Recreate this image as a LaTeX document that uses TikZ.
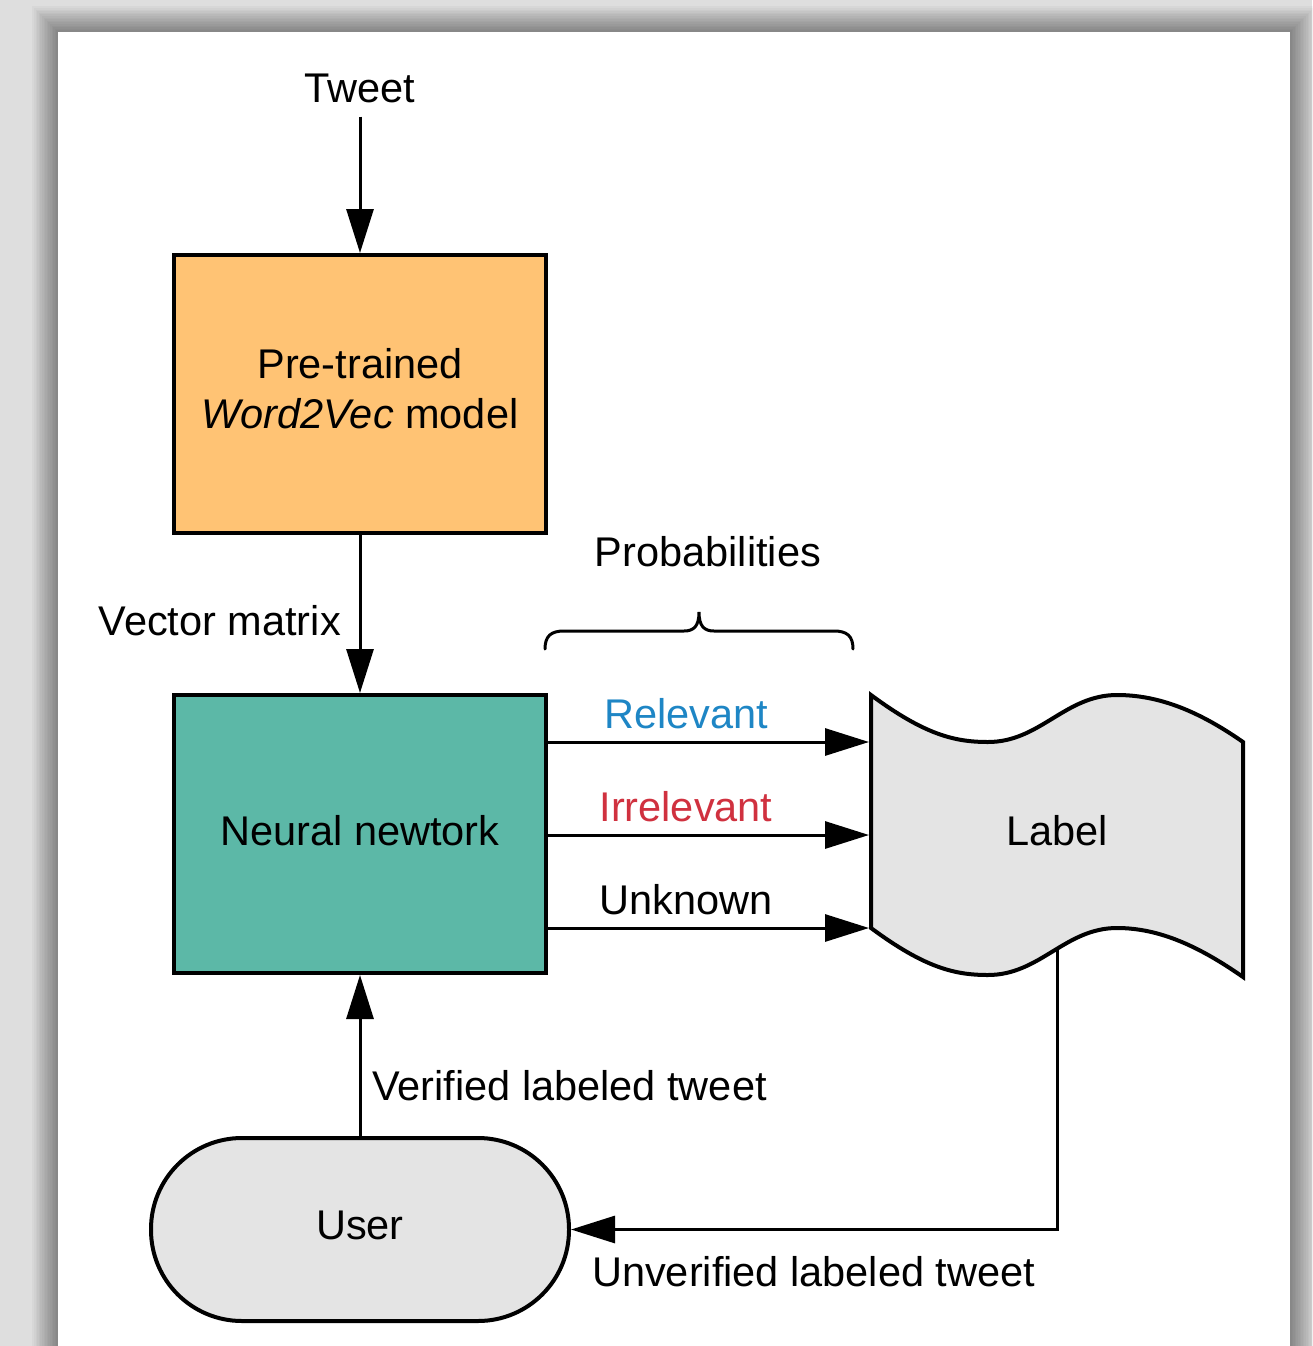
\documentclass[tikz,border=0pt]{standalone}
\usepackage{fontspec}
\setmainfont{Liberation Sans}
\usetikzlibrary{arrows.meta}
\definecolor{bggray}{HTML}{DEDEDE}
\definecolor{orangebox}{HTML}{FFC374}
\definecolor{tealbox}{HTML}{5CB8A7}
\definecolor{lightgray}{HTML}{E4E4E4}
\definecolor{relblue}{HTML}{1E86C5}
\definecolor{irrred}{HTML}{D0313F}
\tikzset{
  boxstyle/.style={draw=black, line width=4pt, minimum width=372pt, minimum height=278pt, align=center, inner sep=0pt},
  txt/.style={inner sep=1pt, anchor=base},
  arr/.style={line width=3pt, -{Triangle[length=44pt,width=27pt]}},
  plain/.style={line width=3pt},
}
\begin{document}
\begin{tikzpicture}[x=1pt,y=-1pt,font=\fontsize{41.5}{50}\selectfont]
\useasboundingbox (0,0) rectangle (1312,1346);
\fill[bggray] (0,0) rectangle (1312,1346);
\foreach \i in {1,...,16}{
  \fill[black,opacity=0.028] (58-1.6*\i,32-1.6*\i) rectangle (1290+1.6*\i,1400);
}
\fill[white] (58,32) rectangle (1290,1400);

% texts
\node[txt] (tweet) at (360,102) {Tweet};
\node[boxstyle, fill=orangebox] (w2v) at (360,394) {};
\node[txt] (w2vt1) at (360,378) {Pre-trained};
\node[txt] (w2vt2) at (360,428) {\itshape Word2Vec\upshape{} model};

\node[boxstyle, fill=tealbox] (nn) at (360,834) {};
\node[txt] (nnt) at (360,845) {Neural newtork};

\node[txt, anchor=base east] (vm) at (342,635) {Vector matrix};
\node[txt] (prob) at (708,566) {Probabilities};

% brace
\draw[plain, line cap=round] (545,649) .. controls (545,636) and (551,631) .. (564,631) -- (684,631) .. controls (694,631) and (699,626) .. (699,612) .. controls (699,626) and (704,631) .. (714,631) -- (834,631) .. controls (847,631) and (853,636) .. (853,649);

% label line (behind shape)
\coordinate (lb) at (1057,940);
\coordinate (lturn) at (1057,1229.5);

% user
\node[draw=black, line width=4pt, fill=lightgray, minimum width=418pt, minimum height=183pt, rounded corners=91pt, inner sep=0pt] (user) at (360,1229.5) {};
\node[txt] (usert) at (360,1239) {User};

\draw[arr] (lb) -- (lturn) -- (user.east);

% label shape
\draw[line width=4pt, fill=lightgray, line join=miter] (871,695) .. controls (925,735) and (955,742) .. (988,742) .. controls (1040,742) and (1065,695) .. (1117,695) .. controls (1160,695) and (1200,712) .. (1243,742) -- (1243,977) .. controls (1200,947) and (1160,928) .. (1117,928) .. controls (1065,928) and (1040,975) .. (988,975) .. controls (955,975) and (925,968) .. (871,928) -- cycle;
\node[txt] (labelt) at (1057,845) {Label};
\coordinate (l1) at (869,742);
\coordinate (l2) at (869,835);
\coordinate (l3) at (869,928);

% arrows
\draw[arr, shorten <=13pt] (tweet.south) -- (w2v.north);
\draw[arr] (w2v.south) -- (nn.north);
\draw[arr] (nn.east |- l1) -- (l1);
\draw[arr] (nn.east |- l2) -- (l2);
\draw[arr] (nn.east |- l3) -- (l3);
\draw[arr] (user.north) -- (nn.south);

\node[txt, text=relblue] (rel) at (686,728) {Relevant};
\node[txt, text=irrred] (irr) at (686,821) {Irrelevant};
\node[txt] (unk) at (686,914) {Unknown};

\node[txt, anchor=base west] (ver) at (371,1100) {Verified labeled tweet};
\node[txt, anchor=base west] (unver) at (591,1286) {Unverified labeled tweet};
\end{tikzpicture}
\end{document}
